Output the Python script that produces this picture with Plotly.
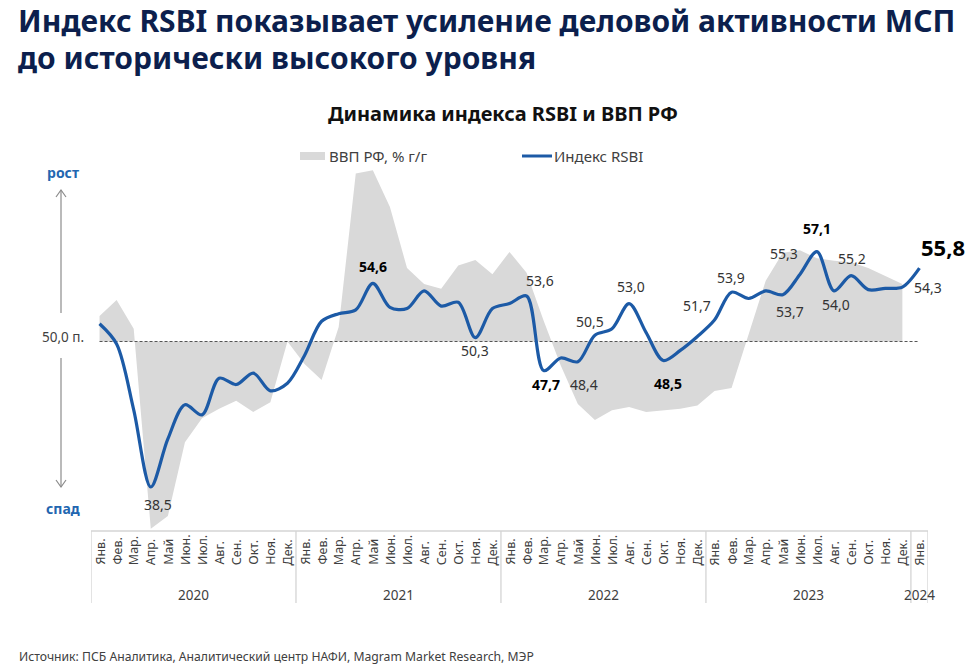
import plotly.graph_objects as go

# ---------------- data ----------------
months = ["Янв.", "Фев.", "Мар.", "Апр.", "Май", "Июн.", "Июл.", "Авг.", "Сен.", "Окт.", "Ноя.", "Дек."]
years = ["2020", "2021", "2022", "2023", "2024"]
month_labels = months * 4 + ["Янв."]
year_of_point = [y for y in years[:4] for _ in range(12)] + ["2024"]

rsbi = [51.4, 49.8, 44.6, 38.5, 42.3, 45.0, 44.2, 47.1, 46.6, 47.5, 46.1, 46.7,
        48.9, 51.6, 52.2, 52.5, 54.6, 52.7, 52.6, 54.0, 52.8, 53.1, 50.3, 52.6,
        53.0, 53.6, 47.7, 48.7, 48.4, 50.5, 51.0, 53.0, 50.7, 48.5, 49.3, 50.4,
        51.7, 53.9, 53.4, 54.0, 53.7, 55.3, 57.1, 54.0, 55.2, 54.1, 54.2, 54.3,
        55.8]

gdp = [1.6, 2.6, 0.8, -11.7, -10.9, -6.3, -4.8, -4.2, -3.7, -4.4, -3.8, 0.0,
       -1.4, -2.4, 0.9, 10.5, 10.7, 8.4, 4.6, 3.6, 3.3, 4.75, 5.1, 4.2,
       5.6, 4.3, 1.3, -1.5, -3.9, -4.9, -4.3, -4.1, -4.4, -4.3, -4.2, -4.0,
       -3.1, -2.9, 0.4, 3.8, 5.55, 5.7, 5.2, 5.05, 4.95, 4.6, 4.1, 3.6]

# indices of labelled RSBI points
labelled = [3, 16, 22, 25, 26, 28, 29, 31, 33, 36, 37, 40, 41, 42, 43, 44, 47, 48]

# ---------------- styling / geometry ----------------
W, H = 970, 666
L, R, T, B = 91, 928, 150, 531
BLUE = "#1c5aa6"
GREY = "#d9d9d9"
TXT = "#404040"
FONT = "Noto Sans"

def px(x):
    return (x - L) / (R - L)

def py(y):
    return (B - y) / (B - T)

# label offsets (dx, dy in px, bold, size)
label_style = {
    3: (7, 18, False, 14), 16: (0, -17, True, 14), 22: (0, 13, False, 14),
    25: (13, -15, False, 14), 26: (2, 14, True, 14), 28: (6, 23, False, 14),
    29: (-5, -14, False, 14), 31: (2, -17, False, 14), 33: (5, 23, True, 14),
    36: (-17, -15, False, 14), 37: (-1, -15, False, 14), 40: (7, 17, False, 14),
    41: (-16, -21, False, 14), 42: (0, -23, True, 14), 43: (2, 14, False, 14),
    44: (1, -17, False, 14), 47: (26, 0, False, 14), 48: (24, -21, True, 22),
}

x_all = list(range(len(rsbi)))
x_gdp = list(range(len(gdp)))

# y scales: RSBI 50 and GDP 0 share the pixel row 341.5
Y0 = 341.5
rsbi_ppu = 12.65
gdp_ppu = 16.0
y_gdp_range = [-(B - Y0) / gdp_ppu, (Y0 - T) / gdp_ppu]
y_rsbi_range = [50 - (B - Y0) / rsbi_ppu, 50 + (Y0 - T) / rsbi_ppu]

fig = go.Figure()
fig.add_trace(go.Scatter(x=x_gdp, y=gdp, mode="lines", fill="tozeroy",
                         line=dict(width=0, color=GREY), fillcolor=GREY,
                         name="ВВП РФ, % г/г", yaxis="y", hoverinfo="skip"))
fig.add_trace(go.Scatter(x=[x_all[0], x_all[-1]], y=[0, 0], mode="lines",
                         line=dict(color="#555555", width=1, dash="3px,2px"),
                         yaxis="y", hoverinfo="skip", showlegend=False))
fig.add_trace(go.Scatter(x=x_all, y=rsbi, mode="lines",
                         line=dict(color=BLUE, width=3.2, shape="spline", smoothing=0.9),
                         name="Индекс RSBI", yaxis="y2"))

ann = []
# titles
ann.append(dict(text="<b>Индекс RSBI показывает усиление деловой активности МСП</b>",
                x=px(16), y=py(21), xref="paper", yref="paper", xanchor="left", yanchor="middle",
                showarrow=False, font=dict(family=FONT, size=30, color="#0c1f4d")))
ann.append(dict(text="<b>до исторически высокого уровня</b>",
                x=px(16), y=py(57), xref="paper", yref="paper", xanchor="left", yanchor="middle",
                showarrow=False, font=dict(family=FONT, size=30, color="#0c1f4d")))
ann.append(dict(text="<b>Динамика индекса RSBI и ВВП РФ</b>",
                x=px(503), y=py(114), xref="paper", yref="paper", xanchor="center", yanchor="middle",
                showarrow=False, font=dict(family=FONT, size=20, color="#111111")))
# legend texts
ann.append(dict(text="ВВП РФ, % г/г", x=px(327), y=py(156), xref="paper", yref="paper",
                xanchor="left", yanchor="middle", showarrow=False,
                font=dict(family=FONT, size=15, color=TXT)))
ann.append(dict(text="Индекс RSBI", x=px(552), y=py(156), xref="paper", yref="paper",
                xanchor="left", yanchor="middle", showarrow=False,
                font=dict(family=FONT, size=15, color=TXT)))
# left side
ann.append(dict(text="<b>рост</b>", x=px(63), y=py(172), xref="paper", yref="paper",
                xanchor="center", yanchor="middle", showarrow=False,
                font=dict(family=FONT, size=14, color="#2266b0")))
ann.append(dict(text="<b>спад</b>", x=px(63), y=py(508), xref="paper", yref="paper",
                xanchor="center", yanchor="middle", showarrow=False,
                font=dict(family=FONT, size=14, color="#2266b0")))
ann.append(dict(text="50,0 п.", x=px(63), y=py(337), xref="paper", yref="paper",
                xanchor="center", yanchor="middle", showarrow=False,
                font=dict(family=FONT, size=13.5, color=TXT)))
# footer
ann.append(dict(text="Источник: ПСБ Аналитика, Аналитический центр НАФИ, Magram Market Research, МЭР",
                x=px(17), y=py(656), xref="paper", yref="paper", xanchor="left", yanchor="middle",
                showarrow=False, font=dict(family=FONT, size=12.2, color=TXT)))

# data labels
for i in labelled:
    dx, dy, bold, size = label_style[i]
    t = f"{rsbi[i]:.1f}".replace(".", ",")
    if bold:
        t = f"<b>{t}</b>"
    ann.append(dict(text=t, x=x_all[i], y=rsbi[i], xref="x", yref="y2",
                    xshift=dx, yshift=-dy, showarrow=False,
                    font=dict(family=FONT, size=size, color="#000000" if bold else "#333333")))

# month labels (rotated, bottom aligned)
for i, m in enumerate(month_labels):
    ann.append(dict(text=m, x=x_all[i], y=py(567), xref="x", yref="paper",
                    xanchor="center", yanchor="bottom", textangle=-90, showarrow=False,
                    font=dict(family=FONT, size=12.5, color=TXT)))
# year labels
for yv in years:
    idx = [i for i, yy in enumerate(year_of_point) if yy == yv]
    ann.append(dict(text=yv, x=sum(idx) / len(idx), y=py(595), xref="x", yref="paper",
                    xanchor="center", yanchor="middle", showarrow=False,
                    font=dict(family=FONT, size=13.5, color=TXT)))

shapes = []
# axis table
line_c = dict(color="#d4d4d4", width=1.3)
shapes.append(dict(type="line", xref="x", yref="paper", x0=-0.5, x1=len(rsbi) - 0.5,
                   y0=0, y1=0, line=line_c))
bounds = [-0.5]
for yv in years:
    idx = [i for i, yy in enumerate(year_of_point) if yy == yv]
    bounds.append(idx[-1] + 0.5)
for b in bounds:
    shapes.append(dict(type="line", xref="x", yref="paper", x0=b, x1=b,
                       y0=0, y1=py(603), line=line_c))
# legend symbols
shapes.append(dict(type="rect", xref="paper", yref="paper", x0=px(300), x1=px(325),
                   y0=py(160), y1=py(152), fillcolor=GREY, line=dict(width=0)))
shapes.append(dict(type="line", xref="paper", yref="paper", x0=px(522), x1=px(552),
                   y0=py(156), y1=py(156), line=dict(color=BLUE, width=3)))
# left arrow
arrow_c = dict(color="#8c8c8c", width=1.2)
shapes.append(dict(type="line", xref="paper", yref="paper", x0=px(61), x1=px(61),
                   y0=py(190), y1=py(313), line=arrow_c))
shapes.append(dict(type="line", xref="paper", yref="paper", x0=px(61), x1=px(61),
                   y0=py(358), y1=py(487), line=arrow_c))
shapes.append(dict(type="path", xref="paper", yref="paper",
                   path=f"M {px(56)},{py(197)} L {px(61)},{py(190)} L {px(66)},{py(197)}",
                   line=arrow_c))
shapes.append(dict(type="path", xref="paper", yref="paper",
                   path=f"M {px(56)},{py(480)} L {px(61)},{py(487)} L {px(66)},{py(480)}",
                   line=arrow_c))

fig.update_layout(
    width=W, height=H, autosize=False,
    margin=dict(l=L, r=W - R, t=T, b=H - B, pad=0),
    paper_bgcolor="white", plot_bgcolor="white",
    showlegend=False,
    xaxis=dict(range=[-0.5, len(rsbi) - 0.5], showgrid=False, zeroline=False,
               showticklabels=False, ticks="", showline=False, fixedrange=True),
    yaxis=dict(range=y_gdp_range, showgrid=False, zeroline=False, showticklabels=False,
               ticks="", showline=False),
    yaxis2=dict(range=y_rsbi_range, overlaying="y", side="right", showgrid=False,
                zeroline=False, showticklabels=False, ticks="", showline=False),
    annotations=ann, shapes=shapes,
    font=dict(family=FONT, color=TXT),
)

fig.write_html("out.html")
